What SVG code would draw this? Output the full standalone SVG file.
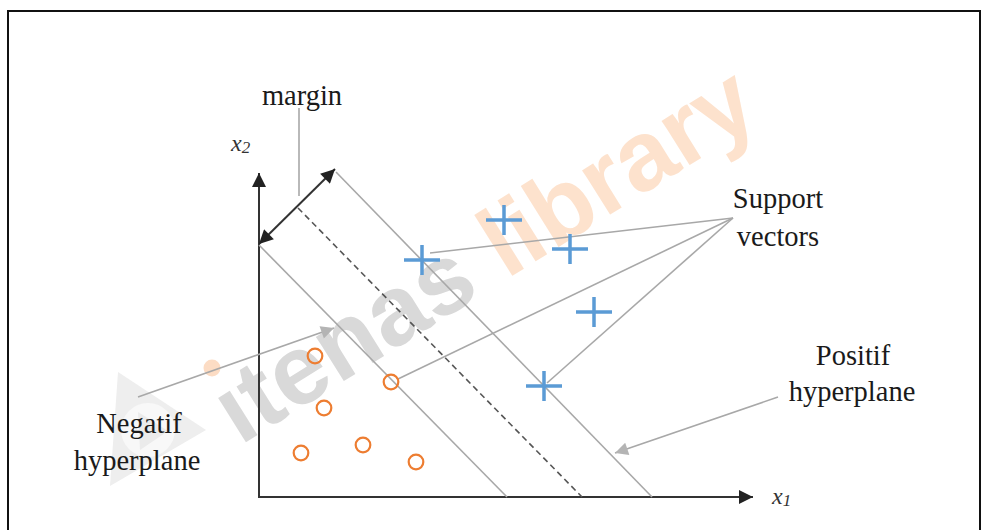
<svg xmlns="http://www.w3.org/2000/svg" width="982" height="530" viewBox="0 0 982 530">
  <defs>
    <marker id="headDark" viewBox="0 0 10 10" refX="10" refY="5" markerWidth="15" markerHeight="14" markerUnits="userSpaceOnUse" orient="auto-start-reverse">
      <path d="M0,0 L10,5 L0,10 Z" fill="#222"/>
    </marker>
    <marker id="headGray" viewBox="0 0 10 10" refX="10" refY="5" markerWidth="16" markerHeight="13" markerUnits="userSpaceOnUse" orient="auto">
      <path d="M0,0 L10,5 L0,10 Z" fill="#b4b4b4"/>
    </marker>
    <style>
      .lbl { font-family: "Liberation Serif", "Times New Roman", serif; font-size: 28.5px; fill: #1a1a1a; text-anchor: middle; }
      .var { font-family: "Liberation Serif", "Times New Roman", serif; font-style: italic; fill: #333; }
      .axis { stroke: #333; stroke-width: 2; fill: none; }
      .plane { stroke: #a8a8a8; stroke-width: 1.6; fill: none; }
      .lead { stroke: #a8a8a8; stroke-width: 1.6; fill: none; }
      .plus { stroke: #5b9bd5; stroke-width: 3.5; fill: none; }
      .circ { stroke: #ed7d31; stroke-width: 2.2; fill: none; }
    </style>
  </defs>

  <rect x="0" y="0" width="982" height="530" fill="#ffffff"/>
  <!-- frame -->
  <path d="M8,530 V11 H980 V530" fill="none" stroke="#111" stroke-width="2"/>

  <!-- background mark -->
  <g id="watermark">
    <path d="M118,372 L206,430 L110,486 Z" fill="#eeeeee"/>
    <circle cx="148" cy="430" r="27" fill="#f8f8f8"/>
    <path d="M138,412 L168,431 L140,450 Z" fill="#ebebeb"/>
    <g transform="translate(240,446) rotate(-32)">
      <text font-family="Liberation Sans, Arial, sans-serif" font-weight="bold" font-size="99"><tspan fill="#d9d9d9">ıtenas</tspan><tspan dx="28" fill="#fde2cd">library</tspan></text>
    </g>
    <circle cx="212" cy="368" r="8.5" fill="#fcdcc4"/>
  </g>

  <!-- axes, hyperplanes, margin and label leaders -->
  <g id="connectors">
    <line class="axis" x1="259" y1="498" x2="259" y2="173" marker-end="url(#headDark)"/>
    <line class="axis" x1="259" y1="497" x2="753" y2="497" marker-end="url(#headDark)"/>
    <line class="plane" x1="259" y1="245" x2="507" y2="497"/>
    <line class="plane" x1="298" y1="208" x2="582" y2="497" stroke-dasharray="6,4" style="stroke:#555"/>
    <line class="plane" x1="336" y1="172" x2="652" y2="497"/>
    <line x1="259" y1="244" x2="335" y2="169" stroke="#333" stroke-width="2" marker-start="url(#headDark)" marker-end="url(#headDark)"/>
    <line class="lead" x1="299" y1="108" x2="299" y2="196" stroke-width="1.2"/>
    <line class="lead" x1="733" y1="218" x2="430" y2="253"/>
    <line class="lead" x1="733" y1="218" x2="398" y2="379"/>
    <line class="lead" x1="733" y1="218" x2="547" y2="383"/>
    <line class="lead" x1="138" y1="397" x2="334" y2="328" marker-end="url(#headGray)"/>
    <line class="lead" x1="778" y1="397" x2="615" y2="453" marker-end="url(#headGray)"/>
  </g>

  <!-- positive class samples -->
  <g id="positive-samples">
    <path class="plus" d="M404,260 H440 M422,245 V275"/>
    <path class="plus" d="M486,220 H522 M504,205 V235"/>
    <path class="plus" d="M552,249 H588 M570,234 V264"/>
    <path class="plus" d="M576,312 H612 M594,297 V327"/>
    <path class="plus" d="M526,386 H562 M544,371 V401"/>
  </g>

  <!-- negative class samples -->
  <g id="negative-samples">
    <circle class="circ" cx="315" cy="356" r="7.3"/>
    <circle class="circ" cx="391" cy="382" r="7.3"/>
    <circle class="circ" cx="324" cy="408" r="7.3"/>
    <circle class="circ" cx="301" cy="453" r="7.3"/>
    <circle class="circ" cx="363" cy="445" r="7.3"/>
    <circle class="circ" cx="416" cy="462" r="7.3"/>
  </g>

  <g id="label-margin"><text class="lbl" x="302" y="105">margin</text></g>
  <g id="label-x2"><text class="var" x="231" y="151" font-size="24">x<tspan font-size="17" dy="2">2</tspan></text></g>
  <g id="label-x1"><text class="var" x="772" y="504" font-size="24">x<tspan font-size="17" dy="2">1</tspan></text></g>
  <g id="label-support">
    <text class="lbl" x="778" y="208">Support</text>
    <text class="lbl" x="778" y="246">vectors</text>
  </g>
  <g id="label-positive">
    <text class="lbl" x="853" y="365">Positif</text>
    <text class="lbl" x="852" y="401">hyperplane</text>
  </g>
  <g id="label-negative">
    <text class="lbl" x="139" y="433">Negatif</text>
    <text class="lbl" x="137" y="470">hyperplane</text>
  </g>
</svg>
